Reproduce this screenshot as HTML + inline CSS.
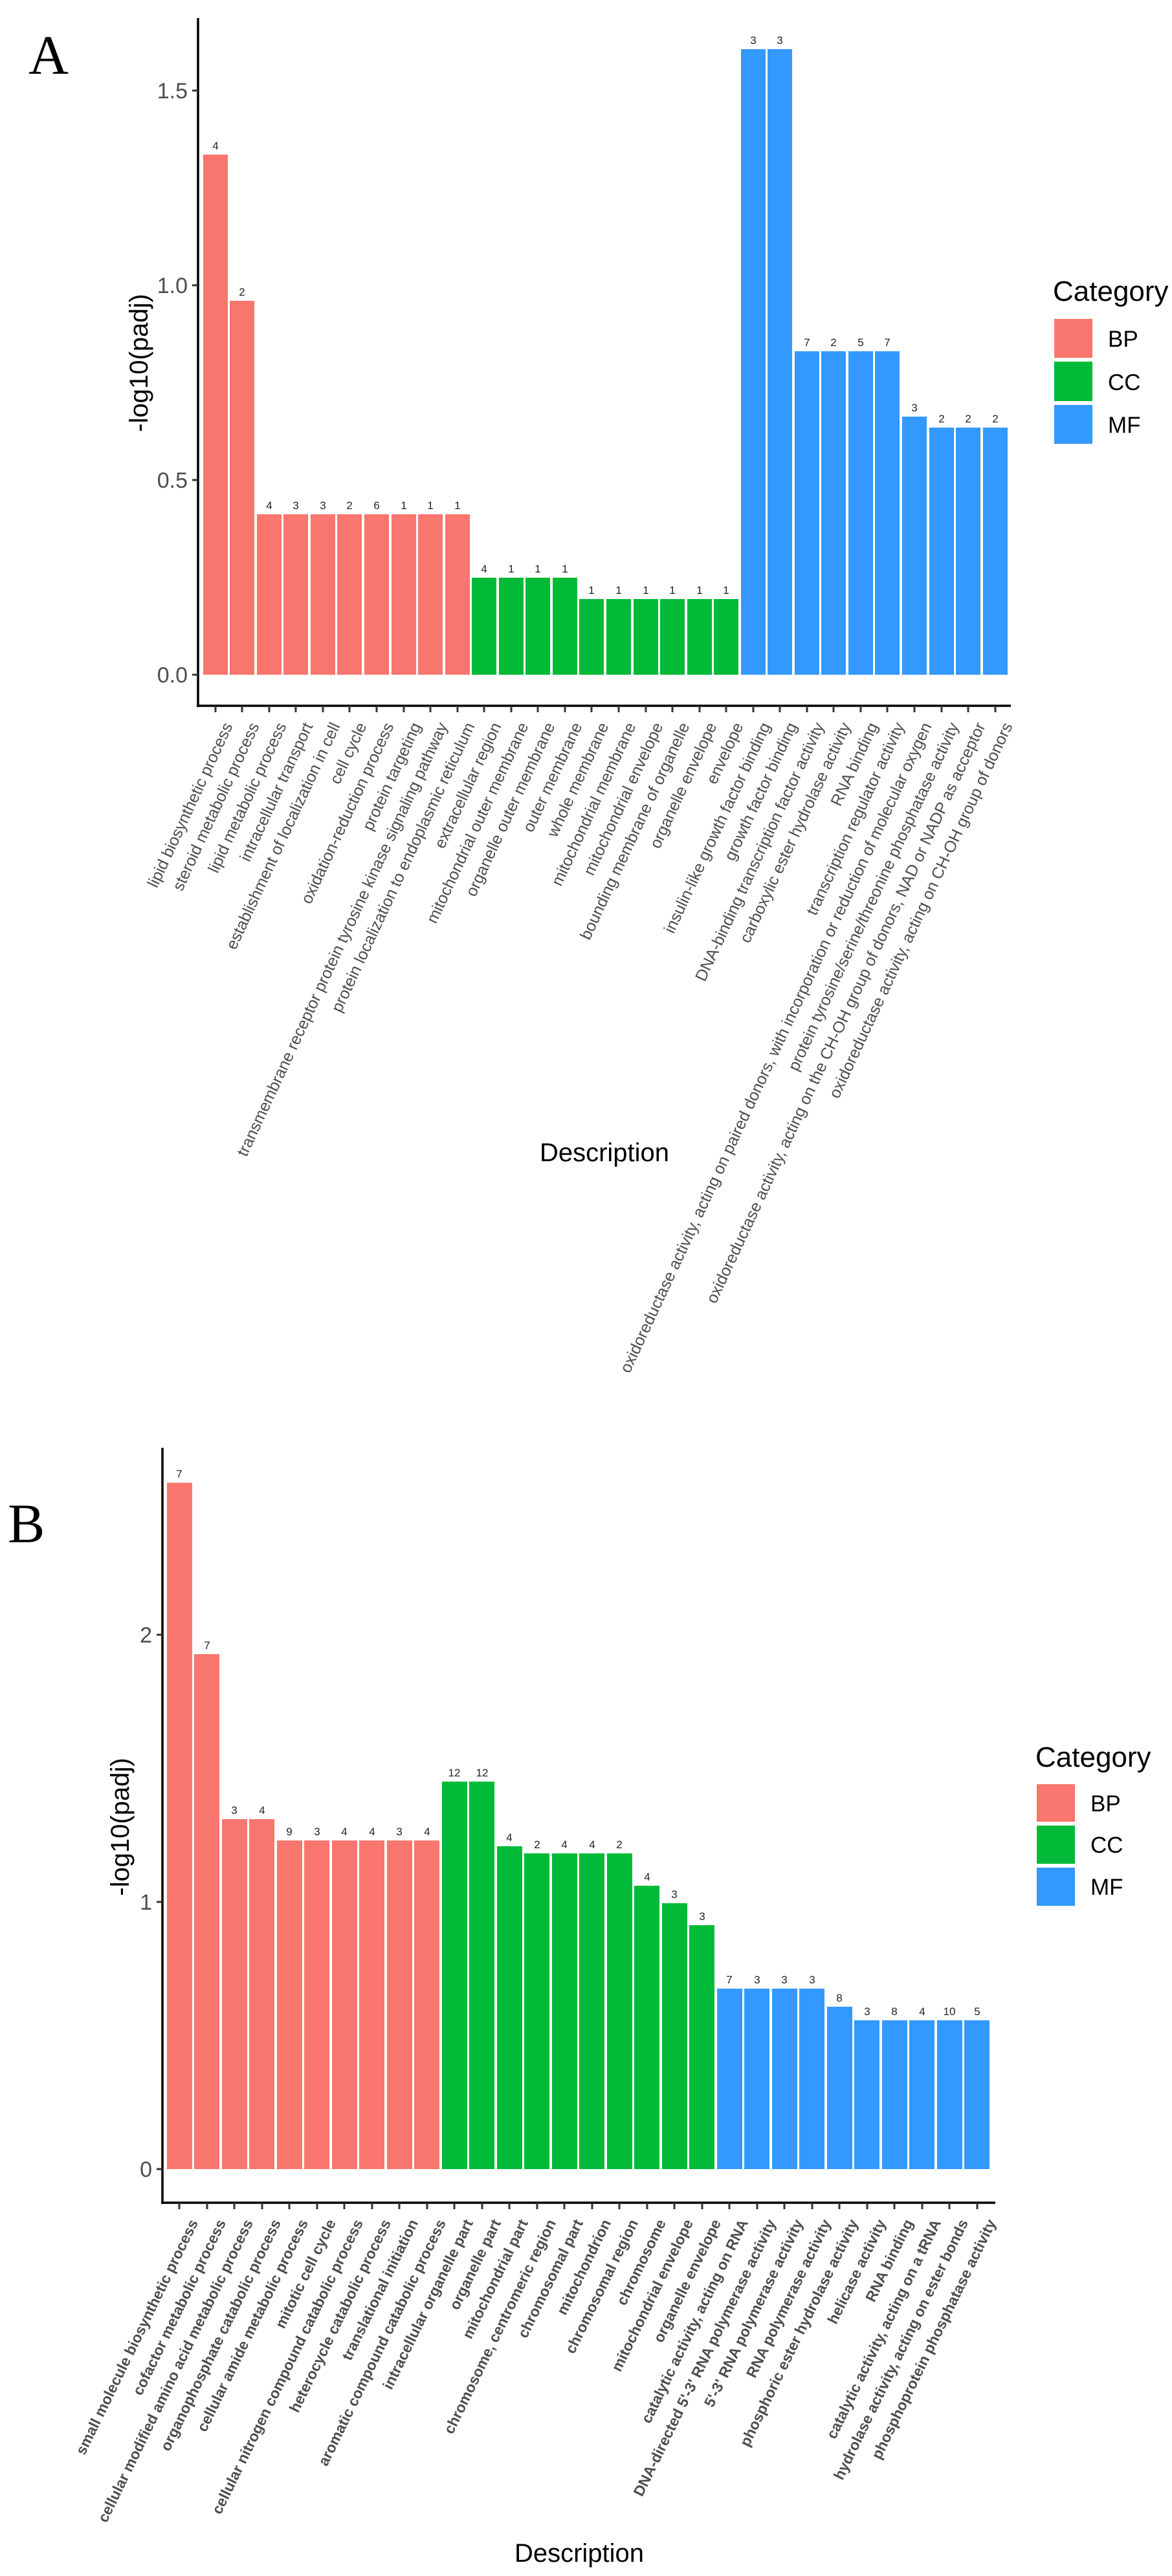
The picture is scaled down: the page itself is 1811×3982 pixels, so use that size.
<!DOCTYPE html>
<html><head><meta charset="utf-8"><style>html,body{margin:0;padding:0;background:#fff}svg{display:block}</style></head><body>
<svg width="1811" height="3982" viewBox="0 0 1811 3982" xmlns="http://www.w3.org/2000/svg" font-family="Liberation Sans, Arial, sans-serif">
<rect width="1811" height="3982" fill="#fff"/>
<!-- ============ A ============ -->
<text x="44" y="114" font-family="Liberation Serif, serif" font-size="86">A</text>
<g fill="#F8766D">
<rect x="314" y="239" width="38" height="804"/><rect x="355" y="465" width="38" height="578"/>
<rect x="397" y="795" width="38" height="248"/><rect x="438" y="795" width="38" height="248"/><rect x="480" y="795" width="38" height="248"/><rect x="521" y="795" width="38" height="248"/><rect x="563" y="795" width="38" height="248"/><rect x="605" y="795" width="38" height="248"/><rect x="646" y="795" width="38" height="248"/><rect x="688" y="795" width="38" height="248"/>
</g>
<g fill="#00BA38">
<rect x="729" y="893" width="38" height="150"/><rect x="771" y="893" width="38" height="150"/><rect x="812" y="893" width="38" height="150"/><rect x="854" y="893" width="38" height="150"/>
<rect x="895" y="926" width="38" height="117"/><rect x="937" y="926" width="38" height="117"/><rect x="979" y="926" width="38" height="117"/><rect x="1020" y="926" width="38" height="117"/><rect x="1062" y="926" width="38" height="117"/><rect x="1103" y="926" width="38" height="117"/>
</g>
<g fill="#3399FF">
<rect x="1145" y="76" width="38" height="967"/><rect x="1186" y="76" width="38" height="967"/>
<rect x="1228" y="543" width="38" height="500"/><rect x="1269" y="543" width="38" height="500"/><rect x="1311" y="543" width="38" height="500"/><rect x="1352" y="543" width="38" height="500"/>
<rect x="1394" y="644" width="38" height="399"/>
<rect x="1436" y="661" width="38" height="382"/><rect x="1477" y="661" width="38" height="382"/><rect x="1519" y="661" width="38" height="382"/>
</g>
<g font-size="17" fill="#222" text-anchor="middle">
<text x="333" y="231">4</text><text x="374" y="457">2</text>
<text x="416" y="787">4</text><text x="457" y="787">3</text><text x="499" y="787">3</text><text x="540" y="787">2</text><text x="582" y="787">6</text><text x="624" y="787">1</text><text x="665" y="787">1</text><text x="707" y="787">1</text>
<text x="748" y="885">4</text><text x="790" y="885">1</text><text x="831" y="885">1</text><text x="873" y="885">1</text>
<text x="914" y="918">1</text><text x="956" y="918">1</text><text x="998" y="918">1</text><text x="1039" y="918">1</text><text x="1081" y="918">1</text><text x="1122" y="918">1</text>
<text x="1164" y="68">3</text><text x="1205" y="68">3</text>
<text x="1247" y="535">7</text><text x="1288" y="535">2</text><text x="1330" y="535">5</text><text x="1371" y="535">7</text>
<text x="1413" y="636">3</text><text x="1455" y="653">2</text><text x="1496" y="653">2</text><text x="1538" y="653">2</text>
</g>
<!-- axes A -->
<line x1="306" y1="28" x2="306" y2="1093" stroke="#000" stroke-width="3.5"/>
<line x1="304" y1="1091" x2="1562" y2="1091" stroke="#000" stroke-width="3.5"/>
<g stroke="#333" stroke-width="3">
<line x1="297" y1="1043" x2="306" y2="1043"/><line x1="297" y1="742" x2="306" y2="742"/><line x1="297" y1="441" x2="306" y2="441"/><line x1="297" y1="140" x2="306" y2="140"/>
</g>
<g font-size="34" fill="#4d4d4d" text-anchor="end">
<text x="290" y="1055">0.0</text><text x="290" y="754">0.5</text><text x="290" y="453">1.0</text><text x="290" y="152">1.5</text>
</g>
<g stroke="#333" stroke-width="3">
<line x1="333" y1="1091" x2="333" y2="1101"/><line x1="374" y1="1091" x2="374" y2="1101"/><line x1="416" y1="1091" x2="416" y2="1101"/><line x1="457" y1="1091" x2="457" y2="1101"/><line x1="499" y1="1091" x2="499" y2="1101"/><line x1="540" y1="1091" x2="540" y2="1101"/><line x1="582" y1="1091" x2="582" y2="1101"/><line x1="624" y1="1091" x2="624" y2="1101"/><line x1="665" y1="1091" x2="665" y2="1101"/><line x1="707" y1="1091" x2="707" y2="1101"/><line x1="748" y1="1091" x2="748" y2="1101"/><line x1="790" y1="1091" x2="790" y2="1101"/><line x1="831" y1="1091" x2="831" y2="1101"/><line x1="873" y1="1091" x2="873" y2="1101"/><line x1="914" y1="1091" x2="914" y2="1101"/><line x1="956" y1="1091" x2="956" y2="1101"/><line x1="998" y1="1091" x2="998" y2="1101"/><line x1="1039" y1="1091" x2="1039" y2="1101"/><line x1="1081" y1="1091" x2="1081" y2="1101"/><line x1="1122" y1="1091" x2="1122" y2="1101"/><line x1="1164" y1="1091" x2="1164" y2="1101"/><line x1="1205" y1="1091" x2="1205" y2="1101"/><line x1="1247" y1="1091" x2="1247" y2="1101"/><line x1="1288" y1="1091" x2="1288" y2="1101"/><line x1="1330" y1="1091" x2="1330" y2="1101"/><line x1="1371" y1="1091" x2="1371" y2="1101"/><line x1="1413" y1="1091" x2="1413" y2="1101"/><line x1="1455" y1="1091" x2="1455" y2="1101"/><line x1="1496" y1="1091" x2="1496" y2="1101"/><line x1="1538" y1="1091" x2="1538" y2="1101"/>
</g>
<g font-size="25" fill="#4d4d4d" text-anchor="end">
<text transform="translate(343,1114) rotate(-65)" dy="0.75em">lipid biosynthetic process</text>
<text transform="translate(384,1114) rotate(-65)" dy="0.75em">steroid metabolic process</text>
<text transform="translate(426,1114) rotate(-65)" dy="0.75em">lipid metabolic process</text>
<text transform="translate(467,1114) rotate(-65)" dy="0.75em">intracellular transport</text>
<text transform="translate(509,1114) rotate(-65)" dy="0.75em">establishment of localization in cell</text>
<text transform="translate(550,1114) rotate(-65)" dy="0.75em">cell cycle</text>
<text transform="translate(592,1114) rotate(-65)" dy="0.75em">oxidation-reduction process</text>
<text transform="translate(634,1114) rotate(-65)" dy="0.75em">protein targeting</text>
<text transform="translate(675,1114) rotate(-65)" dy="0.75em">transmembrane receptor protein tyrosine kinase signaling pathway</text>
<text transform="translate(717,1114) rotate(-65)" dy="0.75em">protein localization to endoplasmic reticulum</text>
<text transform="translate(758,1114) rotate(-65)" dy="0.75em">extracellular region</text>
<text transform="translate(800,1114) rotate(-65)" dy="0.75em">mitochondrial outer membrane</text>
<text transform="translate(841,1114) rotate(-65)" dy="0.75em">organelle outer membrane</text>
<text transform="translate(883,1114) rotate(-65)" dy="0.75em">outer membrane</text>
<text transform="translate(924,1114) rotate(-65)" dy="0.75em">whole membrane</text>
<text transform="translate(966,1114) rotate(-65)" dy="0.75em">mitochondrial membrane</text>
<text transform="translate(1008,1114) rotate(-65)" dy="0.75em">mitochondrial envelope</text>
<text transform="translate(1049,1114) rotate(-65)" dy="0.75em">bounding membrane of organelle</text>
<text transform="translate(1091,1114) rotate(-65)" dy="0.75em">organelle envelope</text>
<text transform="translate(1132,1114) rotate(-65)" dy="0.75em">envelope</text>
<text transform="translate(1174,1114) rotate(-65)" dy="0.75em">insulin-like growth factor binding</text>
<text transform="translate(1215,1114) rotate(-65)" dy="0.75em">growth factor binding</text>
<text transform="translate(1257,1114) rotate(-65)" dy="0.75em">DNA-binding transcription factor activity</text>
<text transform="translate(1298,1114) rotate(-65)" dy="0.75em">carboxylic ester hydrolase activity</text>
<text transform="translate(1340,1114) rotate(-65)" dy="0.75em">RNA binding</text>
<text transform="translate(1381,1114) rotate(-65)" dy="0.75em">transcription regulator activity</text>
<text transform="translate(1423,1114) rotate(-65)" dy="0.75em">oxidoreductase activity, acting on paired donors, with incorporation or reduction of molecular oxygen</text>
<text transform="translate(1465,1114) rotate(-65)" dy="0.75em">protein tyrosine/serine/threonine phosphatase activity</text>
<text transform="translate(1506,1114) rotate(-65)" dy="0.75em">oxidoreductase activity, acting on the CH-OH group of donors, NAD or NADP as acceptor</text>
<text transform="translate(1548,1114) rotate(-65)" dy="0.75em">oxidoreductase activity, acting on CH-OH group of donors</text>
</g>
<text x="934" y="1795" font-size="40" text-anchor="middle" fill="#000">Description</text>
<text transform="translate(228,561) rotate(-90)" font-size="40" text-anchor="middle" fill="#000">-log10(padj)</text>
<text x="1627" y="465" font-size="44" fill="#000">Category</text>
<rect x="1629" y="493" width="59" height="60" fill="#F8766D"/>
<rect x="1629" y="559" width="59" height="61" fill="#00BA38"/>
<rect x="1629" y="626" width="59" height="60" fill="#3399FF"/>
<g font-size="35" fill="#000"><text x="1712" y="536">BP</text><text x="1712" y="603">CC</text><text x="1712" y="669">MF</text></g>

<!-- ============ B ============ -->
<text x="12" y="2384" font-family="Liberation Serif, serif" font-size="86">B</text>
<g fill="#F8766D">
<rect x="258" y="2292" width="39" height="1061"/><rect x="300" y="2557" width="39" height="796"/>
<rect x="343" y="2812" width="39" height="541"/><rect x="385" y="2812" width="39" height="541"/>
<rect x="428" y="2845" width="39" height="508"/><rect x="470" y="2845" width="39" height="508"/><rect x="513" y="2845" width="39" height="508"/><rect x="555" y="2845" width="39" height="508"/><rect x="598" y="2845" width="39" height="508"/><rect x="640" y="2845" width="39" height="508"/>
</g>
<g fill="#00BA38">
<rect x="683" y="2754" width="39" height="599"/><rect x="725" y="2754" width="39" height="599"/>
<rect x="768" y="2854" width="39" height="499"/>
<rect x="810" y="2865" width="39" height="488"/><rect x="853" y="2865" width="39" height="488"/><rect x="895" y="2865" width="39" height="488"/><rect x="938" y="2865" width="39" height="488"/>
<rect x="980" y="2915" width="39" height="438"/><rect x="1023" y="2942" width="39" height="411"/><rect x="1065" y="2976" width="39" height="377"/>
</g>
<g fill="#3399FF">
<rect x="1108" y="3074" width="39" height="279"/><rect x="1150" y="3074" width="39" height="279"/><rect x="1193" y="3074" width="39" height="279"/><rect x="1235" y="3074" width="39" height="279"/>
<rect x="1278" y="3102" width="39" height="251"/>
<rect x="1320" y="3123" width="39" height="230"/><rect x="1363" y="3123" width="39" height="230"/><rect x="1405" y="3123" width="39" height="230"/><rect x="1448" y="3123" width="39" height="230"/><rect x="1490" y="3123" width="39" height="230"/>
</g>
<g font-size="17" fill="#222" text-anchor="middle">
<text x="277" y="2284">7</text><text x="320" y="2549">7</text>
<text x="362" y="2804">3</text><text x="405" y="2804">4</text>
<text x="447" y="2837">9</text><text x="490" y="2837">3</text><text x="532" y="2837">4</text><text x="575" y="2837">4</text><text x="617" y="2837">3</text><text x="660" y="2837">4</text>
<text x="702" y="2746">12</text><text x="745" y="2746">12</text><text x="787" y="2846">4</text>
<text x="830" y="2857">2</text><text x="872" y="2857">4</text><text x="915" y="2857">4</text><text x="957" y="2857">2</text>
<text x="1000" y="2907">4</text><text x="1042" y="2934">3</text><text x="1085" y="2968">3</text>
<text x="1127" y="3066">7</text><text x="1170" y="3066">3</text><text x="1212" y="3066">3</text><text x="1255" y="3066">3</text>
<text x="1297" y="3094">8</text>
<text x="1340" y="3115">3</text><text x="1382" y="3115">8</text><text x="1425" y="3115">4</text><text x="1467" y="3115">10</text><text x="1510" y="3115">5</text>
</g>
<line x1="251" y1="2238" x2="251" y2="3407" stroke="#000" stroke-width="3.5"/>
<line x1="249" y1="3405" x2="1538" y2="3405" stroke="#000" stroke-width="3.5"/>
<g stroke="#333" stroke-width="3">
<line x1="242" y1="3353" x2="251" y2="3353"/><line x1="242" y1="2940" x2="251" y2="2940"/><line x1="242" y1="2527" x2="251" y2="2527"/>
</g>
<g font-size="34" fill="#4d4d4d" text-anchor="end">
<text x="235" y="3365">0</text><text x="235" y="2952">1</text><text x="235" y="2539">2</text>
</g>
<g stroke="#333" stroke-width="3">
<line x1="277" y1="3405" x2="277" y2="3415"/><line x1="320" y1="3405" x2="320" y2="3415"/><line x1="362" y1="3405" x2="362" y2="3415"/><line x1="405" y1="3405" x2="405" y2="3415"/><line x1="447" y1="3405" x2="447" y2="3415"/><line x1="490" y1="3405" x2="490" y2="3415"/><line x1="532" y1="3405" x2="532" y2="3415"/><line x1="575" y1="3405" x2="575" y2="3415"/><line x1="617" y1="3405" x2="617" y2="3415"/><line x1="660" y1="3405" x2="660" y2="3415"/><line x1="702" y1="3405" x2="702" y2="3415"/><line x1="745" y1="3405" x2="745" y2="3415"/><line x1="787" y1="3405" x2="787" y2="3415"/><line x1="830" y1="3405" x2="830" y2="3415"/><line x1="872" y1="3405" x2="872" y2="3415"/><line x1="915" y1="3405" x2="915" y2="3415"/><line x1="957" y1="3405" x2="957" y2="3415"/><line x1="1000" y1="3405" x2="1000" y2="3415"/><line x1="1042" y1="3405" x2="1042" y2="3415"/><line x1="1085" y1="3405" x2="1085" y2="3415"/><line x1="1127" y1="3405" x2="1127" y2="3415"/><line x1="1170" y1="3405" x2="1170" y2="3415"/><line x1="1212" y1="3405" x2="1212" y2="3415"/><line x1="1255" y1="3405" x2="1255" y2="3415"/><line x1="1297" y1="3405" x2="1297" y2="3415"/><line x1="1340" y1="3405" x2="1340" y2="3415"/><line x1="1382" y1="3405" x2="1382" y2="3415"/><line x1="1425" y1="3405" x2="1425" y2="3415"/><line x1="1467" y1="3405" x2="1467" y2="3415"/><line x1="1510" y1="3405" x2="1510" y2="3415"/>
</g>
<g font-size="23" font-weight="bold" fill="#4d4d4d" text-anchor="end">
<text transform="translate(291,3428) rotate(-64)" dy="0.75em">small molecule biosynthetic process</text>
<text transform="translate(334,3428) rotate(-64)" dy="0.75em">cofactor metabolic process</text>
<text transform="translate(376,3428) rotate(-64)" dy="0.75em">cellular modified amino acid metabolic process</text>
<text transform="translate(419,3428) rotate(-64)" dy="0.75em">organophosphate catabolic process</text>
<text transform="translate(461,3428) rotate(-64)" dy="0.75em">cellular amide metabolic process</text>
<text transform="translate(504,3428) rotate(-64)" dy="0.75em">mitotic cell cycle</text>
<text transform="translate(546,3428) rotate(-64)" dy="0.75em">cellular nitrogen compound catabolic process</text>
<text transform="translate(589,3428) rotate(-64)" dy="0.75em">heterocycle catabolic process</text>
<text transform="translate(631,3428) rotate(-64)" dy="0.75em">translational initiation</text>
<text transform="translate(674,3428) rotate(-64)" dy="0.75em">aromatic compound catabolic process</text>
<text transform="translate(716,3428) rotate(-64)" dy="0.75em">intracellular organelle part</text>
<text transform="translate(759,3428) rotate(-64)" dy="0.75em">organelle part</text>
<text transform="translate(801,3428) rotate(-64)" dy="0.75em">mitochondrial part</text>
<text transform="translate(844,3428) rotate(-64)" dy="0.75em">chromosome, centromeric region</text>
<text transform="translate(886,3428) rotate(-64)" dy="0.75em">chromosomal part</text>
<text transform="translate(929,3428) rotate(-64)" dy="0.75em">mitochondrion</text>
<text transform="translate(971,3428) rotate(-64)" dy="0.75em">chromosomal region</text>
<text transform="translate(1014,3428) rotate(-64)" dy="0.75em">chromosome</text>
<text transform="translate(1056,3428) rotate(-64)" dy="0.75em">mitochondrial envelope</text>
<text transform="translate(1099,3428) rotate(-64)" dy="0.75em">organelle envelope</text>
<text transform="translate(1141,3428) rotate(-64)" dy="0.75em">catalytic activity, acting on RNA</text>
<text transform="translate(1184,3428) rotate(-64)" dy="0.75em">DNA-directed 5'-3' RNA polymerase activity</text>
<text transform="translate(1226,3428) rotate(-64)" dy="0.75em">5'-3' RNA polymerase activity</text>
<text transform="translate(1269,3428) rotate(-64)" dy="0.75em">RNA polymerase activity</text>
<text transform="translate(1311,3428) rotate(-64)" dy="0.75em">phosphoric ester hydrolase activity</text>
<text transform="translate(1354,3428) rotate(-64)" dy="0.75em">helicase activity</text>
<text transform="translate(1396,3428) rotate(-64)" dy="0.75em">RNA binding</text>
<text transform="translate(1439,3428) rotate(-64)" dy="0.75em">catalytic activity, acting on a tRNA</text>
<text transform="translate(1481,3428) rotate(-64)" dy="0.75em">hydrolase activity, acting on ester bonds</text>
<text transform="translate(1524,3428) rotate(-64)" dy="0.75em">phosphoprotein phosphatase activity</text>
</g>
<text x="895" y="3960" font-size="40" text-anchor="middle" fill="#000">Description</text>
<text transform="translate(199,2824) rotate(-90)" font-size="40" text-anchor="middle" fill="#000">-log10(padj)</text>
<text x="1600" y="2731" font-size="44" fill="#000">Category</text>
<rect x="1602" y="2758" width="59" height="58" fill="#F8766D"/>
<rect x="1602" y="2822" width="59" height="59" fill="#00BA38"/>
<rect x="1602" y="2887" width="59" height="59" fill="#3399FF"/>
<g font-size="35" fill="#000"><text x="1685" y="2800">BP</text><text x="1685" y="2864">CC</text><text x="1685" y="2929">MF</text></g>
</svg>
</body></html>
